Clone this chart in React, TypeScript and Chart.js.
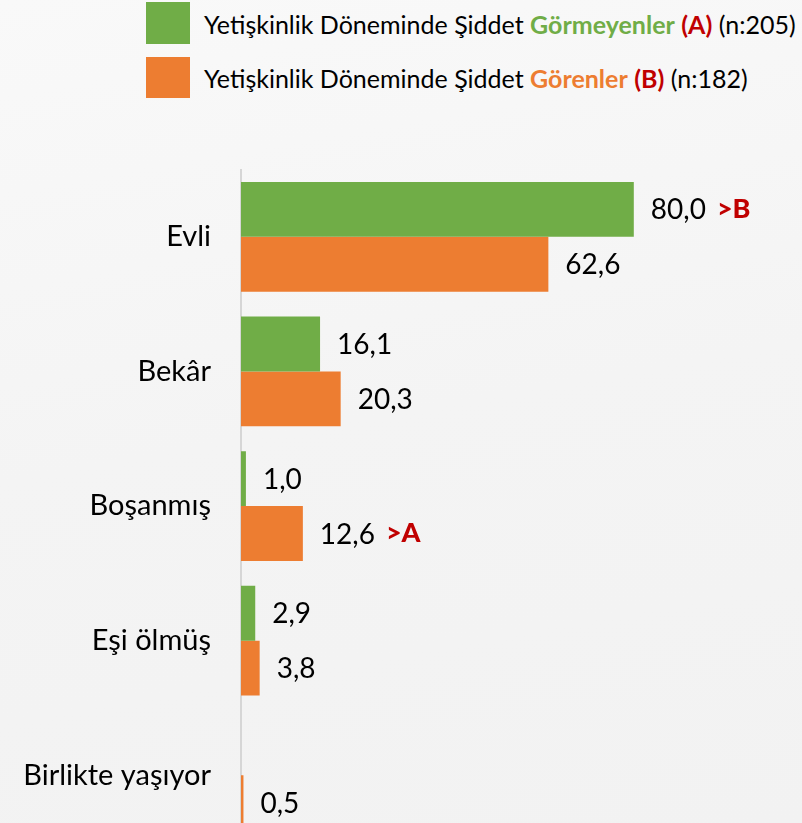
import React, { useEffect, useRef } from "react";
import { Chart, registerables } from "chart.js";

Chart.register(...registerables);

const categories = ["Evli", "Bekâr", "Boşanmış", "Eşi ölmüş", "Birlikte yaşıyor"];
const seriesA = [80.0, 16.1, 1.0, 2.9, 0];
const seriesB = [62.6, 20.3, 12.6, 3.8, 0.5];
const marksA = [">B", "", "", "", ""];
const marksB = ["", "", ">A", "", ""];

const GREEN = "#70ad47";
const ORANGE = "#ed7d31";
const RED = "#c00000";
const FONT = "Lato, 'Open Sans', sans-serif";

const fmt = (v: number) => v.toFixed(1).replace(".", ",");

const valueLabels = {
  id: "valueLabels",
  afterDatasetsDraw(chart: any) {
    const ctx = chart.ctx;
    ctx.save();
    chart.data.datasets.forEach((ds: any, di: number) => {
      const meta = chart.getDatasetMeta(di);
      const marks = di === 0 ? marksA : marksB;
      meta.data.forEach((bar: any, i: number) => {
        const v = ds.data[i];
        if (!v) return;
        const txt = fmt(v);
        ctx.font = `28px ${FONT}`;
        ctx.fillStyle = "#000";
        ctx.textAlign = "left";
        ctx.textBaseline = "middle";
        const x = bar.x + 17;
        const y = bar.y + 1;
        ctx.fillText(txt, x, y);
        const w = ctx.measureText(txt).width;
        if (marks[i]) {
          ctx.font = `900 27px ${FONT}`;
          ctx.fillStyle = RED;
          ctx.fillText(marks[i], x + w + 11, y - 1);
        }
      });
    });
    ctx.restore();
  },
};

export default function App() {
  const ref = useRef<HTMLCanvasElement | null>(null);

  useEffect(() => {
    if (!ref.current) return;
    const chart = new Chart(ref.current, {
      type: "bar",
      data: {
        labels: categories,
        datasets: [
          { label: "A", data: seriesA, backgroundColor: GREEN, categoryPercentage: 0.815, barPercentage: 1 },
          { label: "B", data: seriesB, backgroundColor: ORANGE, categoryPercentage: 0.815, barPercentage: 1 },
        ],
      },
      options: {
        indexAxis: "y",
        responsive: false,
        animation: false,
        devicePixelRatio: 1,
        layout: { padding: { top: 169.5, right: 70, bottom: 15.5, left: 0 } },
        plugins: { legend: { display: false }, tooltip: { enabled: false } },
        scales: {
          x: { display: false, min: 0, max: 100 },
          y: {
            afterFit: (s: any) => {
              s.width = 241;
            },
            grid: { display: false, drawTicks: false },
            border: { display: true, color: "#d6d6d6", width: 2 },
            ticks: {
              padding: 30,
              color: "#000",
              font: { family: FONT, size: 29 },
            },
          },
        },
      },
      plugins: [valueLabels],
    });
    return () => chart.destroy();
  }, []);

  const legendText: React.CSSProperties = {
    position: "absolute",
    left: 204,
    fontFamily: FONT,
    fontSize: 25,
    color: "#000",
    whiteSpace: "nowrap",
    lineHeight: "30px",
  };

  return (
    <div
      style={{
        position: "fixed",
        left: 0,
        top: 0,
        width: 802,
        height: 823,
        overflow: "hidden",
        background: "linear-gradient(170deg, #f9f9f9 0%, #f4f4f4 50%, #f2f2f2 100%)",
      }}
    >
      <div style={{ position: "absolute", left: 146, top: 2, width: 44, height: 42, background: GREEN }} />
      <div style={{ ...legendText, top: 9 }}>
        Yetişkinlik Döneminde Şiddet <b style={{ color: GREEN }}>Görmeyenler</b> <b style={{ color: RED }}>(A)</b> (n:205)
      </div>
      <div style={{ position: "absolute", left: 146, top: 57, width: 44, height: 41, background: ORANGE }} />
      <div style={{ ...legendText, top: 63 }}>
        Yetişkinlik Döneminde Şiddet <b style={{ color: ORANGE }}>Görenler</b> <b style={{ color: RED }}>(B)</b> (n:182)
      </div>
      <canvas ref={ref} width={802} height={890} style={{ position: "absolute", left: 0, top: 0 }} />
    </div>
  );
}
